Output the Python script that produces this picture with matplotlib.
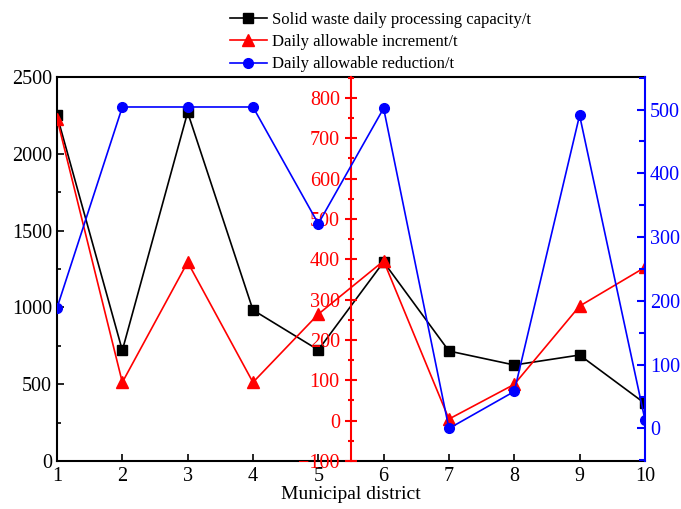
import numpy as np
import matplotlib.pyplot as plt
from matplotlib.ticker import MultipleLocator

plt.rcParams['font.family'] = ['Liberation Serif', 'DejaVu Serif']

districts = [1, 2, 3, 4, 5, 6, 7, 8, 9, 10]
capacity = [2250, 720, 2270, 983, 723, 1296, 716, 625, 690, 375]
increment = [749, 95, 393, 95, 264, 396, 4, 90, 284, 380]
reduction = [189, 504, 504, 504, 321, 502, 0, 58, 491, 14]

fig = plt.figure(figsize=(6.81, 5.09), dpi=100)
ax = fig.add_axes([0.0837, 0.0943, 0.8633, 0.7544])
ax2 = ax.twinx()
ax3 = ax.twinx()

l1, = ax.plot(districts, capacity, color='black', lw=1.2, marker='s', ms=7,
              label='Solid waste daily processing capacity/t')
l2, = ax2.plot(districts, increment, color='red', lw=1.2, marker='^', ms=8,
               label='Daily allowable increment/t')
l3, = ax3.plot(districts, reduction, color='blue', lw=1.2, marker='o', ms=7,
               label='Daily allowable reduction/t')

ax.set_xlim(1, 10)
ax.set_ylim(0, 2500)
ax.xaxis.set_major_locator(MultipleLocator(1))
ax.yaxis.set_major_locator(MultipleLocator(500))
ax.yaxis.set_minor_locator(MultipleLocator(250))
ax.tick_params(axis='both', which='both', direction='in', labelsize=14.5)
ax.tick_params(which='major', length=5, width=1.2)
ax.tick_params(which='minor', length=3, width=1.2)
ax.tick_params(axis='x', which='minor', bottom=False)
ax.tick_params(axis='x', pad=4)
ax.tick_params(top=False, right=False)
for s in ['left', 'bottom', 'top']:
    ax.spines[s].set_linewidth(1.5)
ax.spines['right'].set_visible(False)
ax.set_xlabel('Municipal district', fontsize=14, labelpad=0)

# red axis in the middle
ax2.set_ylim(-100, 852)
ax2.spines['left'].set_position(('axes', 0.5))
ax2.spines['left'].set_visible(True)
ax2.spines['left'].set_color('red')
ax2.spines['left'].set_linewidth(1.5)
for s in ['right', 'top', 'bottom']:
    ax2.spines[s].set_visible(False)
ax2.yaxis.set_ticks_position('left')
ax2.yaxis.set_label_position('left')
ax2.yaxis.set_major_locator(MultipleLocator(100))
ax2.yaxis.set_minor_locator(MultipleLocator(50))
ax2.tick_params(axis='y', which='both', direction='inout', colors='red', labelsize=14.5, width=1.5)
ax2.tick_params(axis='y', which='major', length=9)
ax2.tick_params(axis='y', which='minor', length=5)

# blue axis on the right
ax3.set_ylim(-51, 551)
ax3.spines['right'].set_color('blue')
ax3.spines['right'].set_linewidth(1.5)
for s in ['left', 'top', 'bottom']:
    ax3.spines[s].set_visible(False)
ax3.yaxis.set_major_locator(MultipleLocator(100))
ax3.yaxis.set_minor_locator(MultipleLocator(50))
ax3.tick_params(axis='y', which='both', direction='in', colors='blue', labelsize=14.5, width=1.5)
ax3.tick_params(axis='y', which='major', length=6)
ax3.tick_params(axis='y', which='minor', length=4)

fig.legend(handles=[l1, l2, l3], loc='upper left', bbox_to_anchor=(0.328, 0.99),
           frameon=False, fontsize=12, handlelength=2.2, handletextpad=0.3,
           labelspacing=0.38, borderaxespad=0)

fig.savefig('out.png', dpi=100)
